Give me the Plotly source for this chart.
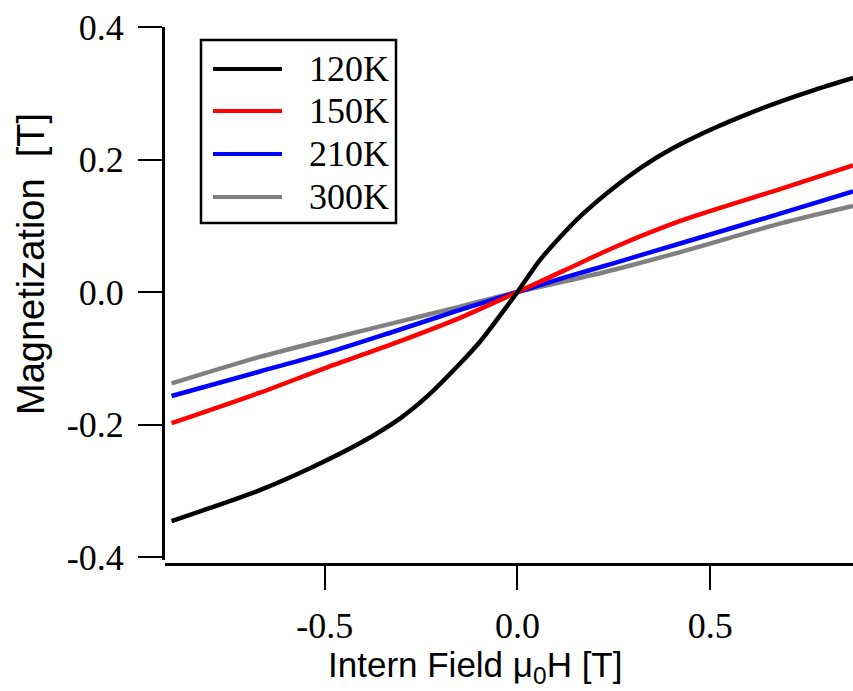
import plotly.graph_objects as go

# ---------------- data ----------------
temps = ["120K", "150K", "210K", "300K"]
colors = ["#000000", "#ff0000", "#0000ff", "#808080"]

field_120K = [-0.897, -0.797, -0.668, -0.538, -0.408, -0.305, -0.235, -0.149, -0.093, -0.028,
              0.0, 0.058, 0.106, 0.166, 0.253, 0.339, 0.426, 0.512, 0.598, 0.685, 0.771, 0.870]
mag_120K = [-0.346, -0.326, -0.299, -0.266, -0.228, -0.191, -0.158, -0.108, -0.072, -0.022,
            0.0, 0.048, 0.080, 0.116, 0.159, 0.195, 0.224, 0.248, 0.269, 0.288, 0.305, 0.323]

field_150K = [-0.897, -0.668, -0.495, -0.322, -0.149, 0.0, 0.123, 0.253, 0.426, 0.685, 0.870]
mag_150K = [-0.198, -0.152, -0.114, -0.078, -0.039, 0.0, 0.033, 0.068, 0.108, 0.156, 0.191]

field_210K = [-0.897, -0.668, -0.495, -0.322, -0.149, 0.0, 0.123, 0.253, 0.426, 0.685, 0.870]
mag_210K = [-0.157, -0.120, -0.092, -0.060, -0.027, 0.0, 0.022, 0.044, 0.074, 0.119, 0.152]

field_300K = [-0.897, -0.668, -0.495, -0.322, -0.149, 0.0, 0.123, 0.253, 0.426, 0.685, 0.870]
mag_300K = [-0.138, -0.098, -0.072, -0.047, -0.022, 0.0, 0.016, 0.034, 0.061, 0.104, 0.130]

x_tick_vals = [-0.5, 0.0, 0.5]
x_tick_text = ["-0.5", "0.0", "0.5"]
y_tick_vals = [-0.4, -0.2, 0.0, 0.2, 0.4]
y_tick_text = ["-0.4", "-0.2", "0.0", "0.2", "0.4"]

x_title = "Intern Field \u03bc<sub>0</sub>H [T]"
y_title = "Magnetization \u00a0[T]"

# ---------------- layout helpers ----------------
W, H = 853, 691
ML, MR, MT, MB = 163, 0, 27, 127
PW = W - ML - MR
PH = H - MT - MB


def px(xp):
    return (xp - ML) / PW


def py(yp):
    return (H - MB - yp) / PH


serif = "Liberation Serif, Times New Roman, serif"
sans = "Liberation Sans, Arial, sans-serif"

fig = go.Figure()
series = [
    (field_300K, mag_300K, temps[3], colors[3]),
    (field_210K, mag_210K, temps[2], colors[2]),
    (field_150K, mag_150K, temps[1], colors[1]),
    (field_120K, mag_120K, temps[0], colors[0]),
]
for xs, ys, name, col in series:
    fig.add_trace(go.Scatter(x=xs, y=ys, mode="lines", name=name,
                             line=dict(color=col, width=4.5, shape="spline", smoothing=0.8),
                             showlegend=False))

fig.update_layout(
    width=W, height=H,
    margin=dict(l=ML, r=MR, t=MT, b=MB, pad=0),
    paper_bgcolor="white", plot_bgcolor="white",
    showlegend=False,
)
fig.update_xaxes(
    domain=[px(165), 1], range=[-0.914, 0.870], anchor="free", position=0,
    showline=True, linecolor="black", linewidth=3,
    ticks="outside", ticklen=24, tickwidth=2, tickcolor="black",
    tickvals=x_tick_vals, ticktext=x_tick_text,
    tickfont=dict(family=serif, size=36, color="black"),
    showgrid=False, zeroline=False, ticklabelstandoff=5,
)
fig.update_yaxes(
    domain=[py(560), 1], range=[-0.4045, 0.4], anchor="free", position=0,
    showline=True, linecolor="black", linewidth=3,
    ticks="outside", ticklen=24, tickwidth=2, tickcolor="black",
    tickvals=y_tick_vals, ticktext=y_tick_text,
    tickfont=dict(family=serif, size=36, color="black"),
    showgrid=False, zeroline=False, ticklabelstandoff=7,
)

shapes = [dict(type="rect", xref="paper", yref="paper",
               x0=px(201), x1=px(396), y0=py(223), y1=py(40),
               line=dict(color="black", width=2.5), fillcolor="white")]
annotations = []
rows = [69, 111, 154, 197]
for name, col, ry in zip(temps, colors, rows):
    shapes.append(dict(type="line", xref="paper", yref="paper",
                       x0=px(213), x1=px(282), y0=py(ry), y1=py(ry),
                       line=dict(color=col, width=4)))
    annotations.append(dict(text=name, xref="paper", yref="paper",
                            x=px(391), y=py(ry), xanchor="right", yanchor="middle",
                            showarrow=False, font=dict(family=serif, size=36, color="black")))

annotations.append(dict(text=x_title, xref="paper", yref="paper",
                        x=px(475), y=py(667), xanchor="center", yanchor="middle",
                        showarrow=False, font=dict(family=sans, size=35, color="black")))
annotations.append(dict(text=y_title, xref="paper", yref="paper",
                        x=px(31), y=py(264), xanchor="center", yanchor="middle",
                        textangle=-90,
                        showarrow=False, font=dict(family=sans, size=38, color="black")))

fig.update_layout(shapes=shapes, annotations=annotations)
fig.write_html("out.html")
